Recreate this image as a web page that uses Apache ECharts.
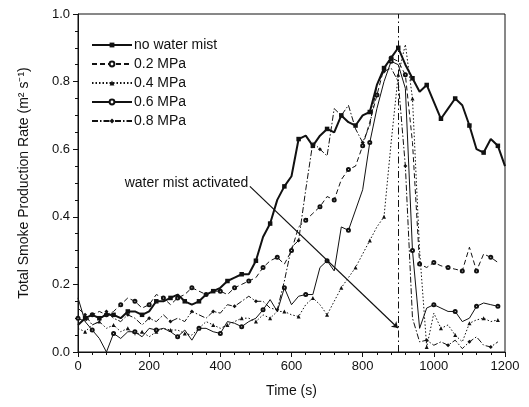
<!DOCTYPE html>
<html>
<head>
<meta charset="utf-8">
<script src="https://cdn.jsdelivr.net/npm/echarts@6/dist/echarts.min.js"></script>
<style>html,body{margin:0;padding:0;background:#fff}#c{width:529px;height:407px}</style>
</head>
<body>
<div id="c"></div>
<script>
var time = [0,20,40,60,80,100,120,140,160,180,200,220,240,260,280,300,320,340,360,380,400,420,440,460,480,500,520,540,560,580,600,620,640,660,680,700,720,740,760,780,800,820,840,860,880,900,920,940,960,980,1000,1020,1040,1060,1080,1100,1120,1140,1160,1180,1200];
var seriesNames = ['no water mist','0.2 MPa','0.4 MPa','0.6 MPa','0.8 MPa'];
var noMist = [0.08,0.10,0.11,0.10,0.11,0.11,0.10,0.12,0.12,0.11,0.12,0.15,0.15,0.16,0.17,0.15,0.14,0.15,0.17,0.18,0.19,0.21,0.22,0.23,0.23,0.27,0.34,0.38,0.45,0.49,0.52,0.63,0.64,0.61,0.64,0.66,0.65,0.70,0.68,0.67,0.70,0.71,0.79,0.84,0.87,0.90,0.85,0.81,0.77,0.79,0.74,0.69,0.72,0.75,0.73,0.67,0.60,0.59,0.63,0.61,0.55];
var mist02 = [0.10,0.09,0.11,0.12,0.11,0.12,0.14,0.16,0.15,0.13,0.14,0.17,0.16,0.14,0.16,0.17,0.19,0.18,0.17,0.18,0.18,0.17,0.19,0.20,0.21,0.22,0.25,0.27,0.28,0.26,0.30,0.37,0.39,0.41,0.43,0.46,0.45,0.51,0.54,0.55,0.61,0.68,0.76,0.84,0.87,0.86,0.82,0.62,0.26,0.25,0.265,0.255,0.25,0.245,0.24,0.31,0.24,0.29,0.28,0.265];
var mist04 = [0.07,0.06,0.08,0.09,0.07,0.08,0.06,0.07,0.05,0.06,0.045,0.06,0.07,0.065,0.065,0.055,0.05,0.07,0.09,0.08,0.07,0.08,0.09,0.10,0.10,0.09,0.11,0.10,0.12,0.12,0.11,0.105,0.14,0.16,0.14,0.11,0.15,0.19,0.22,0.25,0.29,0.33,0.37,0.40,0.62,0.82,0.91,0.75,0.30,0.015,0.115,0.07,0.08,0.05,0.03,0.085,0.095,0.10,0.09,0.095];
var mist06 = [0.16,0.09,0.065,0.04,0.0,0.055,0.04,0.06,0.06,0.045,0.07,0.065,0.07,0.06,0.045,0.065,0.035,0.07,0.07,0.06,0.055,0.09,0.085,0.075,0.09,0.10,0.125,0.155,0.12,0.19,0.14,0.165,0.17,0.17,0.25,0.27,0.24,0.37,0.36,0.42,0.48,0.62,0.72,0.80,0.86,0.85,0.78,0.30,0.07,0.13,0.14,0.13,0.12,0.12,0.09,0.10,0.135,0.145,0.14,0.135];
var mist08 = [0.13,0.11,0.08,0.09,0.12,0.10,0.09,0.11,0.10,0.08,0.10,0.09,0.11,0.09,0.10,0.09,0.12,0.11,0.10,0.12,0.115,0.14,0.135,0.15,0.165,0.15,0.15,0.13,0.125,0.21,0.31,0.33,0.48,0.62,0.60,0.58,0.72,0.70,0.73,0.66,0.62,0.67,0.79,0.83,0.84,0.80,0.55,0.10,0.03,0.035,0.02,0.03,0.02,0.035,0.01,0.03,0.045,0.02,0.015,0.03];
var xTicks = [0,1200,200];
var yTicks = [0,1.0,0.2];
var activationTime = 900;
var annotationText = 'water mist activated';
var annotationStart = [483,0.49];
var annotationEnd = [899,0.071];

function pairs(vals){ return vals.map(function(v,i){ return [time[i], v]; }); }
function sizeEvery(n, off, s){ return function(v, p){ return (p.dataIndex % n === off) ? s : 0; }; }
var FONT = 'Liberation Sans, Arial, sans-serif';
var INK = '#111';

function axisBase(minorSplit){
  return {
    type:'value',
    splitLine:{show:false},
    axisLine:{show:true, onZero:false, lineStyle:{color:INK, width:1}},
    axisTick:{show:true, inside:false, length:5, lineStyle:{color:INK, width:1}},
    minorTick:{show:true, splitNumber:minorSplit, length:3, lineStyle:{color:INK, width:1}}
  };
}
function merge(a, b){ for (var k in b) a[k] = b[k]; return a; }

var chart = echarts.init(document.getElementById('c'));
chart.setOption({
  animation:false,
  grid:{left:78, right:24, top:14, bottom:55, show:true, borderColor:INK, borderWidth:1, backgroundColor:'rgba(0,0,0,0)'},
  legend:{
    orient:'vertical', left:86, top:33, itemWidth:40, itemHeight:6, itemGap:5,
    textStyle:{fontSize:14, fontFamily:FONT, color:INK, padding:[0,0,0,-3]},
    data:seriesNames
  },
  xAxis:merge(axisBase(5), {position:'bottom', min:xTicks[0], max:xTicks[1], interval:xTicks[2],
      name:'Time (s)', nameLocation:'middle', nameGap:32, nameTextStyle:{fontSize:14, fontFamily:FONT, color:INK},
      axisLabel:{fontSize:13, fontFamily:FONT, color:INK, margin:8, formatter:function(v){return String(v);}}}),
  yAxis:merge(axisBase(4), {position:'left', min:yTicks[0], max:yTicks[1], interval:yTicks[2],
      name:'Total Smoke Production Rate (m\u00B2 s\u207B\u00B9)', nameLocation:'middle', nameGap:47, nameRotate:90,
      nameTextStyle:{fontSize:14, fontFamily:FONT, color:INK},
      axisLabel:{fontSize:13, fontFamily:FONT, color:INK, margin:8, formatter:function(v){return v.toFixed(1);}}}),
  series:[
    {name:seriesNames[0], type:'line', data:pairs(noMist), z:5,
     symbol:'rect', symbolSize:sizeEvery(2,1,4.5), showAllSymbol:true,
     lineStyle:{color:INK, width:2}, itemStyle:{color:INK},
     markLine:{silent:true, symbol:['none','none'], label:{show:false},
       lineStyle:{color:INK, width:1, type:[7,3,1.5,3]},
       data:[{xAxis:activationTime}]}},
    {name:seriesNames[1], type:'line', data:pairs(mist02),
     symbol:'emptyCircle', symbolSize:sizeEvery(2,0,3), showAllSymbol:true,
     lineStyle:{color:INK, width:1, type:[5,3]}, itemStyle:{color:INK, borderColor:INK, borderWidth:0.8}},
    {name:seriesNames[2], type:'line', data:pairs(mist04),
     symbol:'triangle', symbolSize:sizeEvery(2,1,4), showAllSymbol:true,
     lineStyle:{color:INK, width:1, type:[1.5,2]}, itemStyle:{color:INK}},
    {name:seriesNames[3], type:'line', data:pairs(mist06),
     symbol:'emptyCircle', symbolSize:sizeEvery(3,2,3), showAllSymbol:true,
     lineStyle:{color:INK, width:1}, itemStyle:{color:INK, borderColor:INK, borderWidth:0.8},
     markLine:{silent:true, symbol:['none','arrow'], symbolSize:6, label:{show:false},
       lineStyle:{color:INK, width:1.2, type:'solid'},
       data:[[{coord:annotationStart},{coord:annotationEnd}]]},
     markPoint:{silent:true, data:[{coord:annotationStart, symbol:'circle', symbolSize:1, itemStyle:{color:'rgba(0,0,0,0)'},
       label:{show:true, position:'left', distance:1, offset:[0,-3], formatter:annotationText, fontSize:14, fontFamily:FONT, color:INK}}]}},
    {name:seriesNames[4], type:'line', data:pairs(mist08),
     symbol:'diamond', symbolSize:sizeEvery(3,1,4), showAllSymbol:true,
     lineStyle:{color:INK, width:1, type:[6,2,1.5,2]}, itemStyle:{color:INK}}
  ]
});
</script>
</body>
</html>
